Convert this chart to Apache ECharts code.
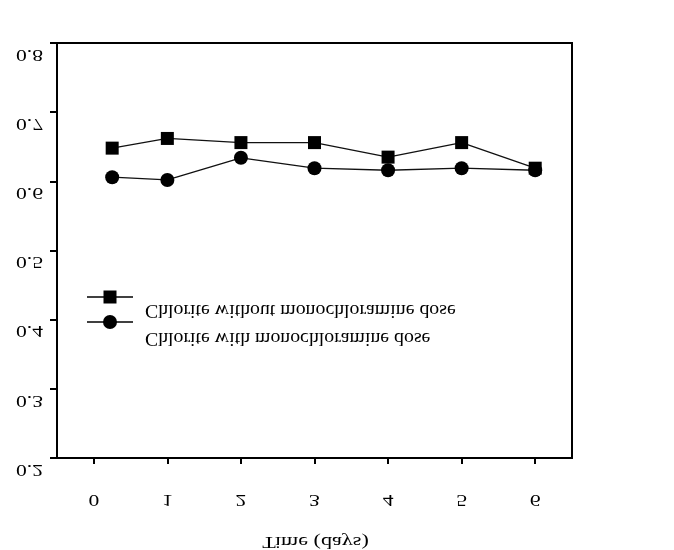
<!DOCTYPE html>
<html>
<head>
<meta charset="utf-8">
<script src="https://cdn.jsdelivr.net/npm/echarts@6/dist/echarts.min.js"></script>
<style>html,body{margin:0;padding:0;background:#fff;}#c{width:674px;height:550px;}</style>
</head>
<body>
<div id="c"></div>
<script>
const days = [0.25, 1, 2, 3, 4, 5, 6];
const withoutDose = [0.648, 0.662, 0.656, 0.656, 0.635, 0.656, 0.619];
const withDose = [0.606, 0.602, 0.634, 0.619, 0.616, 0.619, 0.616];
const xTickValues = [0, 1, 2, 3, 4, 5, 6];
const xTickLabels = ['0', '1', '2', '3', '4', '5', '6'];
const yTickValues = [0.2, 0.3, 0.4, 0.5, 0.6, 0.7, 0.8];
const yTickLabels = ['0.2', '0.3', '0.4', '0.5', '0.6', '0.7', '0.8'];
const seriesNames = ['Chlorite without monochloramine dose', 'Chlorite with monochloramine dose'];
const xTitle = 'Time (days)';

const FONT = 'Liberation Serif';
const chart = echarts.init(document.getElementById('c'));
chart.setOption({
  animation: false,
  backgroundColor: '#fff',
  grid: { left: 57, top: 43, right: 102, bottom: 92, show: true, borderColor: '#000', borderWidth: 2, backgroundColor: 'transparent' },
  xAxis: {
    type: 'value', min: -0.5, max: 6.5,
    axisLine: { show: true, onZero: false, lineStyle: { color: '#000', width: 2 } },
    axisTick: { show: true, inside: false, length: 6, customValues: xTickValues, lineStyle: { color: '#000', width: 2 } },
    axisLabel: { show: false },
    splitLine: { show: false }
  },
  yAxis: {
    type: 'value', min: 0.2, max: 0.8, interval: 0.1,
    axisLine: { show: true, onZero: false, lineStyle: { color: '#000', width: 2 } },
    axisTick: { show: true, inside: false, length: 7, lineStyle: { color: '#000', width: 2 } },
    axisLabel: { show: false },
    splitLine: { show: false }
  },
  series: [
    { name: seriesNames[0], type: 'line', data: days.map((d, i) => [d, withoutDose[i]]),
      symbol: 'rect', symbolSize: 13, itemStyle: { color: '#000' }, lineStyle: { color: '#111', width: 1.3 } },
    { name: seriesNames[1], type: 'line', data: days.map((d, i) => [d, withDose[i]]),
      symbol: 'circle', symbolSize: 14, itemStyle: { color: '#000' }, lineStyle: { color: '#111', width: 1.3 } }
  ]
});

function flipText(text, x, y, size, sx, align) {
  return { type: 'text', x: x, y: y, scaleX: sx, scaleY: -1, z: 100,
    style: { text: text, fontSize: size, fontFamily: FONT, fill: '#000',
      align: align, verticalAlign: 'middle', textAlign: align, textVerticalAlign: 'middle' } };
}
const g = [];
yTickValues.forEach((v, i) => {
  const p = chart.convertToPixel({ gridIndex: 0 }, [0, v]);
  g.push(flipText(yTickLabels[i], 43, p[1] + 11, 16, 1.35, 'right'));
});
const yBottom = chart.convertToPixel({ gridIndex: 0 }, [0, 0.2])[1];
xTickValues.forEach((v, i) => {
  const p = chart.convertToPixel({ gridIndex: 0 }, [v, 0.2]);
  g.push(flipText(xTickLabels[i], p[0], yBottom + 41, 16, 1.35, 'center'));
});
const xMid = chart.convertToPixel({ gridIndex: 0 }, [3, 0.2])[0];
g.push(flipText(xTitle, xMid + 1, yBottom + 83, 17, 1.3, 'center'));

// legend
const legendRows = [
  { y: 297, symbol: 'rect', textY: 310 },
  { y: 322, symbol: 'circle', textY: 338 }
];
legendRows.forEach((r, i) => {
  g.push({ type: 'line', shape: { x1: 87, y1: r.y, x2: 133, y2: r.y }, style: { stroke: '#000', lineWidth: 1.5 }, z: 100 });
  if (r.symbol === 'rect') {
    g.push({ type: 'rect', shape: { x: 110 - 6.5, y: r.y - 6.5, width: 13, height: 13 }, style: { fill: '#000' }, z: 101 });
  } else {
    g.push({ type: 'circle', shape: { cx: 110, cy: r.y, r: 7 }, style: { fill: '#000' }, z: 101 });
  }
  g.push(flipText(seriesNames[i], 145, r.textY, 18, 1.1, 'left'));
});
chart.setOption({ graphic: g });
</script>
</body>
</html>
